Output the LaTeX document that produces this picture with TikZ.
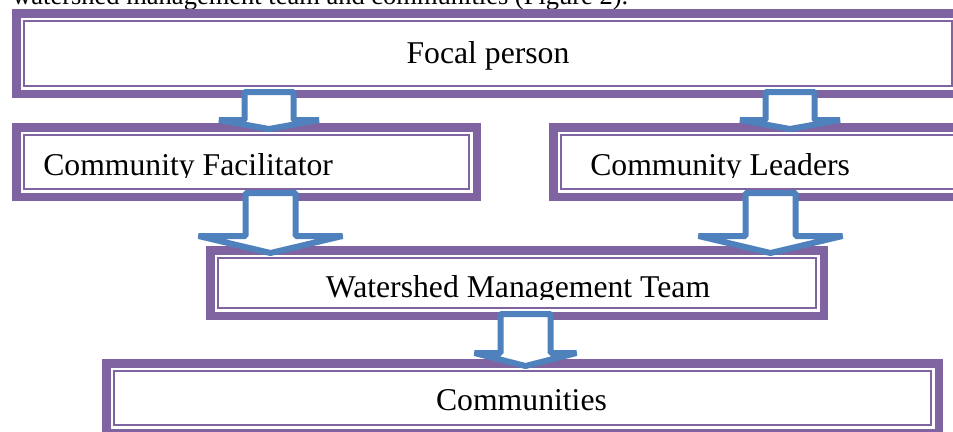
\documentclass[tikz,border=0pt]{standalone}
\usepackage{fontspec}
\setmainfont{Liberation Serif}
\usetikzlibrary{calc,fit}
\definecolor{boxpurple}{HTML}{8064A2}
\definecolor{arrowblue}{HTML}{4F81BD}

% #1 top, #2 tip, #3 head depth, #4 shaft half width, #5 head half width
\newcommand\blockarrow[5]{%
  \draw[barrow] ($(#1)+(-#4,3)$) -- ($(#2)+(-#4,-#3)$) -- ($(#2)+(-#5,-#3)$)
    -- ($(#2)+(0,-3)$) -- ($(#2)+(#5,-#3)$) -- ($(#2)+(#4,-#3)$)
    -- ($(#1)+(#4,3)$) -- cycle;}

\begin{document}
\begin{tikzpicture}[x=1pt,y=-1pt,semithick]
  \tikzstyle{box}=[draw=boxpurple,line width=2pt,fill=white,outer sep=0pt,inner sep=0pt]
  \tikzstyle{frame}=[draw=boxpurple,line width=8.5pt,inner sep=7.75pt]
  \tikzstyle{barrow}=[draw=arrowblue,fill=white,line width=6pt,line join=bevel]
  \tikzstyle{lbl}=[inner sep=0pt,font=\fontsize{31.7}{38}\selectfont]

  \useasboundingbox (0,0) rectangle (953,431);

  \node[anchor=base west,inner sep=0pt,font=\fontsize{26.5}{32}\selectfont] (intro) at (12,5)
  {watershed management team and communities (Figure 2).};

  \node[box,minimum width=928pt,minimum height=65pt] (fp)  at (488,53.5) {};
  \node[frame,fit=(fp)] (fpf) {};
  \node[box,minimum width=445pt,minimum height=54pt] (cf)  at (246.5,162) {};
  \node[frame,fit=(cf)] (cff) {};
  \node[box,minimum width=427pt,minimum height=54pt] (cl)  at (774.5,162) {};
  \node[frame,fit=(cl)] (clf) {};
  \node[box,minimum width=598pt,minimum height=50pt] (wmt) at (517,283) {};
  \node[frame,fit=(wmt)] (wmtf) {};
  \node[box,minimum width=817pt,minimum height=54pt] (com) at (522.5,398) {};
  \node[frame,fit=(com)] (comf) {};

  \node[lbl,anchor=base] (fpt) at (488,63) {Focal person};
  \begin{scope}
    \clip (12,123) rectangle (481,177);
    \node[lbl,anchor=base west] (cft) at (43,175) {Community Facilitator};
  \end{scope}
  \begin{scope}
    \clip (549,123) rectangle (953,177);
    \node[lbl,anchor=base west] (clt) at (590,175) {Community Leaders};
  \end{scope}
  \begin{scope}
    \clip (206,246) rectangle (828,299);
    \node[lbl,anchor=base] (wmtt) at (518,297) {Watershed Management Team};
  \end{scope}
  \node[lbl,anchor=base] (comt) at (521.5,410) {Communities};

  \coordinate (a1s) at (269,89);    \coordinate (a1e) at (269,132);
  \coordinate (a2s) at (790,89);    \coordinate (a2e) at (790,132);
  \coordinate (a3s) at (270.5,190); \coordinate (a3e) at (270.5,256);
  \coordinate (a4s) at (770.5,190); \coordinate (a4e) at (770.5,256);
  \coordinate (a5s) at (525.5,311); \coordinate (a5e) at (525.5,369);

  \blockarrow{a1s}{a1e}{12}{24.5}{50}
  \blockarrow{a2s}{a2e}{12}{24.5}{50}
  \blockarrow{a3s}{a3e}{20}{25}{72}
  \blockarrow{a4s}{a4e}{20}{25}{72}
  \blockarrow{a5s}{a5e}{16}{25}{51}
\end{tikzpicture}
\end{document}
